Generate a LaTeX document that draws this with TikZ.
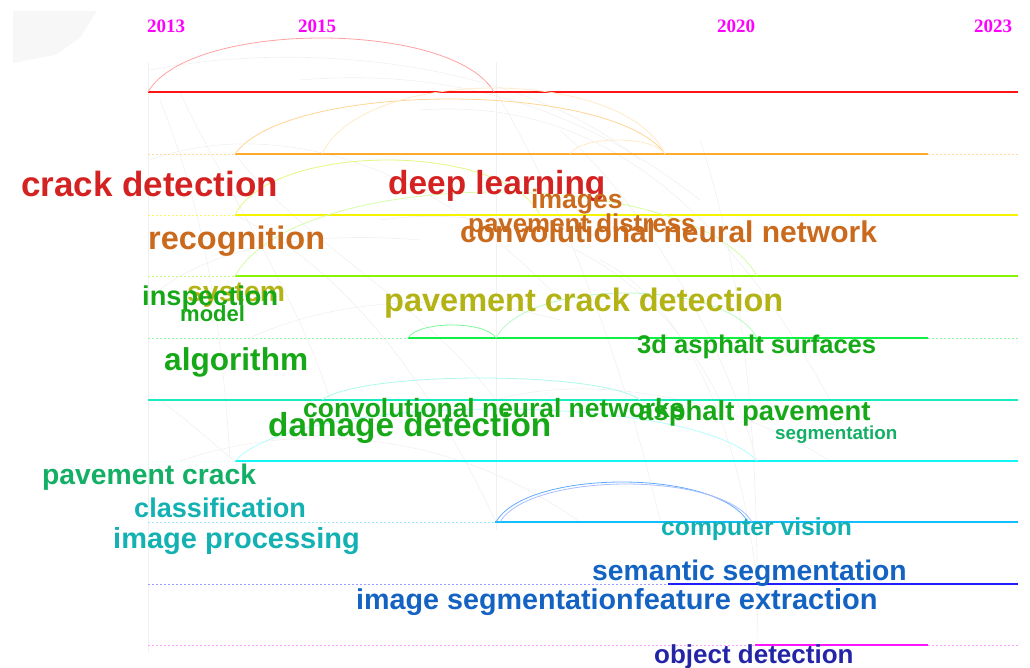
\documentclass[tikz,border=0pt]{standalone}
\usepackage{fontspec}
\setsansfont{Liberation Sans}
\setmainfont{Liberation Serif}
% keyword colours per cluster
\definecolor{kwRed}{HTML}{D42222}
\definecolor{kwOrange}{HTML}{C96A1C}
\definecolor{kwOlive}{HTML}{B3B316}
\definecolor{kwGreen}{HTML}{16A816}
\definecolor{kwSea}{HTML}{14AF66}
\definecolor{kwTeal}{HTML}{14B1B3}
\definecolor{kwBlue}{HTML}{1463C2}
\definecolor{kwNavy}{HTML}{2424A6}
\definecolor{yearMag}{HTML}{FF00FF}
% timeline colours
\definecolor{tl0}{HTML}{FF1414}
\definecolor{tl1}{HTML}{FFAA2A}
\definecolor{tl2}{HTML}{F6F200}
\definecolor{tl3}{HTML}{86F500}
\definecolor{tl4}{HTML}{10F040}
\definecolor{tl5}{HTML}{18EBC0}
\definecolor{tl6}{HTML}{10F6F6}
\definecolor{tl7}{HTML}{10BEFF}
\definecolor{tl8}{HTML}{1E1EFF}
\definecolor{tl9}{HTML}{FF14FF}
% a citation bow between two years on one timeline: style, x1, x2, y, height
\newcommand{\linkarc}[5]{\draw[#1] (#2,#4) .. controls ({#2+0.12*(#3-#2)},{#4-1.333*#5}) and ({#3-0.12*(#3-#2)},{#4-1.333*#5}) .. (#3,#4);}
\begin{document}
\begin{tikzpicture}[x=1pt,y=-1pt,
  kw/.style={inner sep=0pt, anchor=base west, font=\sffamily\bfseries\fontsize{#1}{#1}\selectfont},
  yr/.style={inner sep=0pt, anchor=base west, text=yearMag, font=\rmfamily\bfseries\fontsize{19}{19}\selectfont},
  span/.style={line width=2pt},
  gap/.style={line width=0.9pt, dash pattern=on 2pt off 2pt},
  faint/.style={draw=black!6, line width=0.6pt},
  bow/.style={line width=0.8pt}]
\useasboundingbox (0,0) rectangle (1030,668);

% soft patch in the upper left corner
\fill[black!3] (13,11) -- (97,11) -- (80,38) -- (55,55) -- (13,63) -- cycle;

% faint guide verticals
\draw[black!6, line width=0.6pt] (148,62) -- (148,652);
\draw[black!6, line width=0.6pt] (496,62) -- (496,530);

% background co-citation links between clusters
\draw[faint] (150,70) .. controls (300,40) and (520,60) .. (640,160);
\draw[faint] (160,100) .. controls (200,200) and (220,300) .. (230,460);
\draw[faint] (150,160) .. controls (260,120) and (420,150) .. (560,300);
\draw[faint] (180,92) .. controls (220,180) and (300,300) .. (330,400);
\draw[faint] (235,154) .. controls (300,240) and (420,300) .. (496,400);
\draw[faint] (300,80) .. controls (420,70) and (560,90) .. (700,200);
\draw[faint] (420,110) .. controls (560,100) and (700,160) .. (830,400);
\draw[faint] (496,92) .. controls (560,200) and (620,350) .. (660,520);
\draw[faint] (560,130) .. controls (640,200) and (720,330) .. (757,461);
\draw[faint] (380,220) .. controls (520,200) and (650,260) .. (720,400);
\draw[faint] (235,215) .. controls (330,260) and (420,360) .. (496,522);
\draw[faint] (600,260) .. controls (680,300) and (740,420) .. (757,584);
\draw[faint] (496,400) .. controls (560,380) and (700,380) .. (830,461);
\draw[faint] (160,400) .. controls (200,430) and (220,450) .. (235,461);
\draw[faint] (180,461) .. controls (300,420) and (450,430) .. (580,522);
\draw[faint] (700,140) .. controls (740,260) and (760,420) .. (757,645);
\draw[faint] (148,300) .. controls (200,250) and (300,230) .. (420,240);
\draw[faint] (250,338) .. controls (330,300) and (450,290) .. (560,320);

% timelines, one per cluster
\draw[span, tl0] (148,92) -- (1018,92);
\draw[gap, tl1!45] (148,154) -- (235,154);
\draw[span, tl1] (235,154) -- (928,154);
\draw[gap, tl1!45] (928,154) -- (1018,154);
\draw[gap, tl2!60] (148,215) -- (235,215);
\draw[span, tl2] (235,215) -- (1018,215);
\draw[gap, tl3!50] (148,276) -- (235,276);
\draw[span, tl3] (235,276) -- (1018,276);
\draw[gap, tl4!45] (148,338) -- (408,338);
\draw[span, tl4] (408,338) -- (928,338);
\draw[gap, tl4!45] (928,338) -- (1018,338);
\draw[span, tl5] (148,400) -- (1018,400);
\draw[gap, tl6!12] (148,461) -- (235,461);
\draw[span, tl6] (235,461) -- (1018,461);
\draw[gap, tl7!40] (148,522) -- (495,522);
\draw[span, tl7] (495,522) -- (1018,522);
\draw[gap, tl8!45] (148,584) -- (668,584);
\draw[span, tl8] (668,584) -- (1018,584);
\draw[gap, tl9!40] (148,645) -- (755,645);
\draw[span, tl9] (755,645) -- (928,645);
\draw[gap, tl9!40] (928,645) -- (1018,645);

% citation bows along the timelines
\linkarc{bow, tl0!40}{148}{494}{92}{54}
\linkarc{bow, tl1!50}{235}{665}{154}{55}
\linkarc{bow, tl1!25}{322}{665}{154}{66}
\linkarc{bow, tl1!25}{570}{665}{154}{14}
\linkarc{bow, tl3!45!tl2!50}{235}{540}{215}{55}
\linkarc{bow, tl3!35}{235}{757}{276}{84}
\linkarc{bow, tl4!55}{408}{496}{338}{13}
\linkarc{bow, tl4!30}{496}{757}{338}{45}
\linkarc{bow, tl5!35}{322}{640}{400}{22}
\linkarc{bow, tl6!30}{235}{757}{461}{52}
\linkarc{bow, tl7!65!blue!65}{496}{748}{522}{40}
\linkarc{bow, tl7!35!blue!35}{500}{752}{522}{38}

% year axis
\node[yr] (y2013) at (147,33) {2013};
\node[yr] (y2015) at (298,33) {2015};
\node[yr] (y2020) at (717,33) {2020};
\node[yr] (y2023) at (974,33) {2023};

% cluster keywords
\node[kw=35, text=kwRed] (k1) at (21,197) {crack detection};
\node[kw=33.4, text=kwRed] (k2) at (388,195) {deep learning};
\node[kw=26.5, text=kwOrange] (k3) at (531,209) {images};
\node[kw=25.9, text=kwOrange] (k4) at (468,233) {pavement distress};
\node[kw=30, text=kwOrange] (k5) at (460,243) {convolutional neural network};
\node[kw=32.5, text=kwOrange] (k6) at (148,250) {recognition};
\node[kw=28.4, text=kwOlive] (k7) at (187,301) {system};
\node[kw=27.2, text=kwGreen] (k8) at (142,305) {inspection};
\node[kw=22, text=kwGreen] (k9) at (180,321) {model};
\node[kw=32.5, text=kwOlive] (k10) at (384,311) {pavement crack detection};
\node[kw=25.6, text=kwGreen] (k11) at (637,353) {3d asphalt surfaces};
\node[kw=31.6, text=kwGreen] (k12) at (164,370) {algorithm};
\node[kw=26.4, text=kwGreen] (k13) at (303,417) {convolutional neural networks};
\node[kw=33.3, text=kwGreen] (k14) at (268,436) {damage detection};
\node[kw=27.5, text=kwGreen] (k15) at (638,420) {asphalt pavement};
\node[kw=18.8, text=kwSea] (k16) at (775,439) {segmentation};
\node[kw=28.3, text=kwSea] (k17) at (42,484) {pavement crack};
\node[kw=27.1, text=kwTeal] (k18) at (134,517) {classification};
\node[kw=29, text=kwTeal] (k19) at (113,548) {image processing};
\node[kw=24.7, text=kwTeal] (k20) at (661,535) {computer vision};
\node[kw=28.3, text=kwBlue] (k21) at (592,580) {semantic segmentation};
\node[kw=28.7, text=kwBlue] (k22) at (356,609) {image segmentation};
\node[kw=29, text=kwBlue] (k23) at (634,609) {feature extraction};
\node[kw=26, text=kwNavy] (k24) at (654,663) {object detection};
\end{tikzpicture}
\end{document}
